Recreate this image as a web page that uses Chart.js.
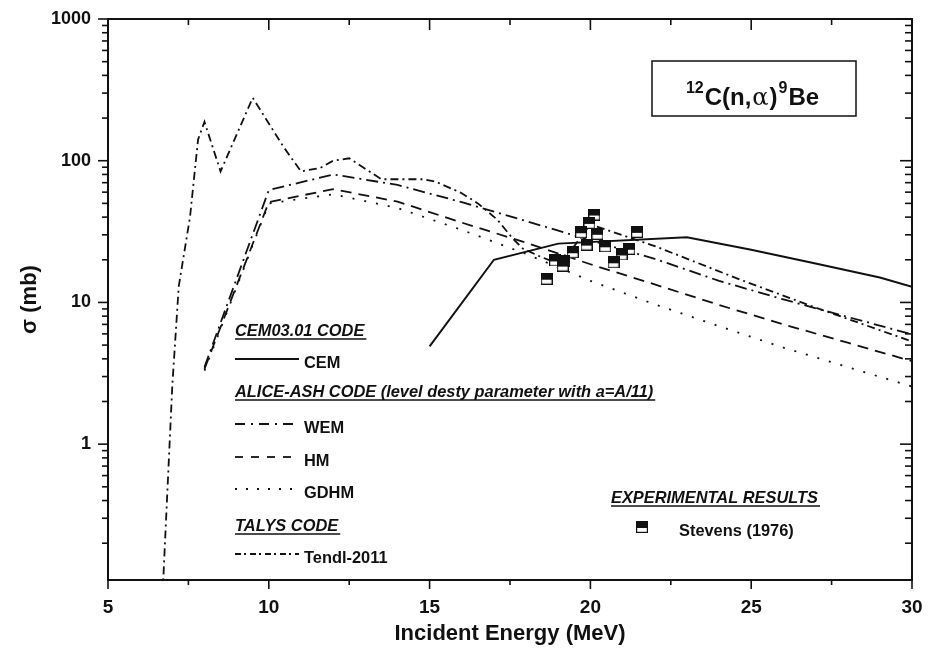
<!DOCTYPE html>
<html>
<head>
<meta charset="utf-8">
<script src="https://cdn.jsdelivr.net/npm/chart.js@4.4.0/dist/chart.umd.min.js"></script>
<style>
  html, body { margin: 0; padding: 0; background: #fff; }
</style>
</head>
<body>
<canvas id="chart" width="933" height="648"></canvas>
<script>
// ALICE-ASH model energies (MeV) and cross sections (mb)
const modelEnergy = [8, 10, 12, 14, 16, 18, 20, 22, 24, 26, 28, 30];
const wemXS  = [3.5, 62, 80, 67.5, 51, 37.5, 27.5, 20.3, 14.2, 10.5, 7.9, 5.95];
const hmXS   = [3.4, 51, 63, 51.5, 36.6, 26.4, 18.6, 13.4, 9.6, 7.0, 5.2, 3.85];
const gdhmXS = [3.3, 50, 58, 46.4, 32.5, 22, 14.2, 9.7, 6.8, 4.8, 3.5, 2.55];

// CEM03.01
const cemEnergy = [15, 17, 19, 23, 25, 27, 29, 30];
const cemXS     = [4.9, 20, 26, 28.8, 23.5, 18.8, 15, 12.9];

// TALYS / TENDL-2011
const tendlEnergy = [6.7, 7.0, 7.2, 7.55, 7.8, 8.0, 8.5, 9.5, 10.45, 11.0, 11.6, 12.0, 12.5, 13.5, 14.8, 15.2, 16.0, 16.5, 17.1, 17.6, 17.9, 18.45, 18.95, 19.47, 20.0, 22.0, 24.65, 27.0, 30.0];
const tendlXS     = [0.09, 2.6, 13, 40, 141, 188, 84, 278, 126, 84, 89, 100, 104, 74, 74, 71, 59, 50, 38.5, 28, 24, 21, 19, 24.5, 35.5, 25, 14.5, 9.2, 5.3];

// Stevens (1976) experimental points
const stevensEnergy = [20.12, 19.97, 19.71, 20.22, 21.45, 19.88, 20.46, 21.21, 20.97, 19.45, 20.72, 18.9, 19.18, 19.14, 18.64];
const stevensXS     = [41.7, 36.4, 31.3, 30.5, 31.5, 25.6, 24.9, 23.9, 21.8, 22.6, 19.2, 19.8, 19.5, 18.2, 14.7];

const xTicks = [5, 10, 15, 20, 25, 30];
const yTicks = [1, 10, 100, 1000];

const FONT = '"Liberation Sans", Arial, Helvetica, sans-serif';
const INK = '#111';

function pts(xs, ys) {
  return xs.map((x, i) => ({ x: x, y: ys[i] }));
}

// half-black square marker
function makeMarker() {
  const c = document.createElement('canvas');
  c.width = 12; c.height = 12;
  const g = c.getContext('2d');
  g.fillStyle = '#fff';
  g.fillRect(0.5, 0.5, 11, 11);
  g.fillStyle = INK;
  g.fillRect(0.5, 0.5, 11, 6.5);
  g.strokeStyle = INK;
  g.lineWidth = 1.2;
  g.strokeRect(0.6, 0.6, 10.8, 10.8);
  return c;
}
const marker = makeMarker();

const dashes = {
  wem: [12, 5, 2, 5],
  hm: [11, 7],
  gdhm: [2, 10],
  tendl: [8, 4, 2, 4]
};

// frame, ticks, legend and reaction box
const decorPlugin = {
  id: 'decor',
  afterDraw(chart) {
    const ctx = chart.ctx;
    const a = chart.chartArea;
    const xs = chart.scales.x, ys = chart.scales.y;
    ctx.save();
    ctx.strokeStyle = INK;
    ctx.lineWidth = 2;
    ctx.setLineDash([]);
    ctx.strokeRect(a.left, a.top, a.right - a.left, a.bottom - a.top);

    function seg(x1, y1, x2, y2) {
      ctx.beginPath(); ctx.moveTo(x1, y1); ctx.lineTo(x2, y2); ctx.stroke();
    }
    ctx.lineWidth = 1.6;
    for (let v = 5; v <= 30; v += 2.5) {
      const px = xs.getPixelForValue(v);
      const major = v % 5 === 0;
      seg(px, a.bottom, px, a.bottom + (major ? 9 : 5));
      seg(px, a.top, px, a.top + (major ? 11 : 6));
    }
    [0.1, 1, 10, 100, 1000].forEach(d => {
      for (let m = 1; m <= 9; m++) {
        const v = d * m;
        if (v < 0.11 || v > 1000.01) continue;
        const py = ys.getPixelForValue(v);
        const L = m === 1 ? 10 : 6;
        seg(a.left - L, py, a.left, py);
        seg(a.right - (m === 1 ? 12 : 7), py, a.right, py);
      }
    });

    // legend
    ctx.fillStyle = INK;
    ctx.textBaseline = 'alphabetic';
    ctx.textAlign = 'left';
    function header(text, x, y) {
      ctx.font = 'italic bold 16.4px ' + FONT;
      ctx.fillText(text, x, y);
      const w = ctx.measureText(text).width;
      ctx.lineWidth = 1.5;
      ctx.setLineDash([]);
      seg(x, y + 3, x + w + 2, y + 3);
    }
    function item(text, y, dash) {
      ctx.lineWidth = 1.8;
      ctx.setLineDash(dash);
      seg(235, y - 9, 299, y - 9);
      ctx.setLineDash([]);
      ctx.font = 'bold 16.4px ' + FONT;
      ctx.fillText(text, 304, y);
    }
    header('CEM03.01 CODE', 235, 336);
    item('CEM', 368, []);
    header('ALICE-ASH CODE (level desty parameter with a=A/11)', 235, 397);
    item('WEM', 433, [10, 6, 2, 6]);
    item('HM', 466, [8, 8]);
    item('GDHM', 498, [2, 9]);
    header('TALYS CODE', 235, 531);
    item('Tendl-2011', 563, [6, 3, 2, 4]);
    header('EXPERIMENTAL RESULTS', 611, 503);
    ctx.drawImage(marker, 636, 521);
    ctx.font = 'bold 16.4px ' + FONT;
    ctx.fillText('Stevens (1976)', 679, 536);

    // reaction box
    ctx.lineWidth = 1.5;
    ctx.strokeRect(652, 61, 204, 55);
    const parts = [
      { t: '12', f: 'bold 16px ' + FONT, dy: -12 },
      { t: 'C(n,', f: 'bold 24px ' + FONT, dy: 0 },
      { t: 'α', f: '24px "DejaVu Serif", serif', dy: 0 },
      { t: ')', f: 'bold 24px ' + FONT, dy: 0 },
      { t: '9', f: 'bold 16px ' + FONT, dy: -12 },
      { t: 'Be', f: 'bold 24px ' + FONT, dy: 0 }
    ];
    let total = 0;
    parts.forEach(p => { ctx.font = p.f; p.w = ctx.measureText(p.t).width; total += p.w + 1; });
    let x = 753 - total / 2;
    parts.forEach(p => { ctx.font = p.f; ctx.fillText(p.t, x, 105 + p.dy); x += p.w + 1; });
    ctx.restore();
  }
};

const lineBase = { pointRadius: 0, borderColor: INK, borderWidth: 1.8, tension: 0, fill: false };
const hiddenGrid = { display: true, drawOnChartArea: false, drawTicks: true, tickColor: 'rgba(0,0,0,0)' };

new Chart(document.getElementById('chart'), {
  type: 'line',
  data: {
    datasets: [
      { label: 'Stevens (1976)', data: pts(stevensEnergy, stevensXS), showLine: false,
        pointStyle: marker, pointRadius: 6, borderColor: INK, backgroundColor: INK },
      Object.assign({ label: 'CEM', data: pts(cemEnergy, cemXS) }, lineBase, { borderWidth: 2 }),
      Object.assign({ label: 'WEM', data: pts(modelEnergy, wemXS), borderDash: dashes.wem }, lineBase),
      Object.assign({ label: 'HM', data: pts(modelEnergy, hmXS), borderDash: dashes.hm }, lineBase),
      Object.assign({ label: 'GDHM', data: pts(modelEnergy, gdhmXS), borderDash: dashes.gdhm }, lineBase),
      Object.assign({ label: 'Tendl-2011', data: pts(tendlEnergy, tendlXS), borderDash: dashes.tendl }, lineBase)
    ]
  },
  options: {
    responsive: false,
    animation: false,
    devicePixelRatio: 1,
    layout: { padding: { left: 0, right: 21, top: 19, bottom: 0 } },
    plugins: { legend: { display: false }, tooltip: { enabled: false } },
    scales: {
      x: {
        type: 'linear', min: 5, max: 30,
        afterFit: s => { s.height = 68; },
        afterBuildTicks: s => { s.ticks = xTicks.map(v => ({ value: v })); },
        grid: Object.assign({ tickLength: 14 }, hiddenGrid),
        border: { display: false },
        ticks: { padding: 2, color: INK, font: { family: FONT, size: 19, weight: 'bold' } },
        title: { display: true, text: 'Incident Energy (MeV)', color: INK,
          font: { family: FONT, size: 22, weight: 'bold' }, padding: { top: 0, bottom: 1 } }
      },
      y: {
        type: 'logarithmic', min: 0.11, max: 1000,
        afterFit: s => { s.width = 108; },
        afterBuildTicks: s => { s.ticks = yTicks.map(v => ({ value: v })); },
        grid: Object.assign({ tickLength: 15 }, hiddenGrid),
        border: { display: false },
        ticks: { padding: 2, color: INK, callback: v => String(v),
          font: { family: FONT, size: 18, weight: 'bold' } },
        title: { display: true, text: 'σ (mb)', color: INK,
          font: { family: FONT, size: 22, weight: 'bold' }, padding: { top: 17, bottom: 0 } }
      }
    }
  },
  plugins: [decorPlugin]
});
</script>
</body>
</html>
